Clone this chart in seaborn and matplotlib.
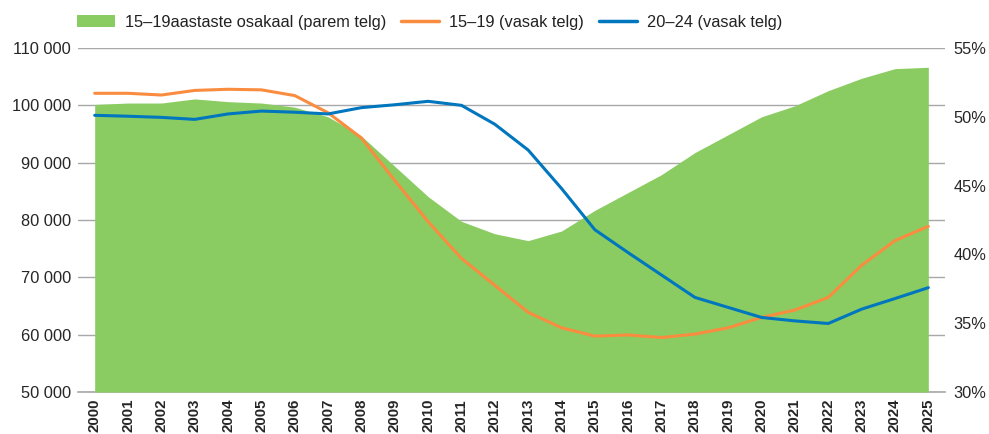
import numpy as np
import pandas as pd
import matplotlib
matplotlib.use('Agg')
import matplotlib.pyplot as plt
import seaborn as sns
from matplotlib.ticker import FuncFormatter, FixedLocator
from matplotlib.patches import Patch
from matplotlib.lines import Line2D

# Data
years = list(range(2000, 2026))
share_15_19 = [50.9, 51.0, 51.0, 51.3, 51.1, 51.0, 50.7, 50.0, 48.6, 46.4, 44.2, 42.4, 41.5,
               41.0, 41.7, 43.2, 44.5, 45.8, 47.4, 48.7, 50.0, 50.8, 51.9, 52.8, 53.5, 53.6]
pop_15_19 = [102100, 102100, 101800, 102600, 102800, 102700, 101700, 98700, 94300, 86900,
             79700, 73300, 68600, 63900, 61200, 59750, 59950, 59500, 60100, 61200,
             63000, 64300, 66500, 72100, 76400, 78900]
pop_20_24 = [98260, 98100, 97900, 97550, 98500, 99000, 98800, 98500, 99600, 100100,
             100700, 100000, 96700, 92200, 85500, 78300, 74300, 70400, 66500, 64750,
             63000, 62400, 61950, 64450, 66300, 68200]

label_share = '15–19aastaste osakaal (parem telg)'
label_15_19 = '15–19 (vasak telg)'
label_20_24 = '20–24 (vasak telg)'

green = '#8acc62'
orange = '#fa8c40'
blue = '#0076be'
grid_gray = '#a8a8a8'

df = pd.DataFrame({'year': years, 'share': share_15_19,
                   'p1519': pop_15_19, 'p2024': pop_20_24})

sns.set_theme(style='white')
plt.rcParams['font.family'] = ['Liberation Sans', 'DejaVu Sans']
plt.rcParams['text.color'] = '#222222'

fig = plt.figure(figsize=(9.89, 4.34), dpi=100)
rect = [78 / 989, 42 / 434, (945 - 78) / 989, (392 - 48) / 434]

# bottom layer: left axis with grid
ax = fig.add_axes(rect)
ax.set_xlim(1999.5, 2025.5)
ax.set_ylim(50000, 110000)
ax.yaxis.set_major_locator(FixedLocator(range(50000, 110001, 10000)))
ax.yaxis.set_major_formatter(FuncFormatter(lambda v, p: f'{int(v):,}'.replace(',', ' ')))
ax.grid(axis='y', color=grid_gray, linewidth=1)
ax.grid(axis='x', visible=False)
for s in ['top', 'left', 'right']:
    ax.spines[s].set_visible(False)
ax.spines['bottom'].set_color(grid_gray)
ax.spines['bottom'].set_linewidth(1.2)
ax.set_xticks(years)
ax.set_xticklabels([str(y) for y in years], rotation=90, fontweight='bold', fontsize=10.8)
ax.set_xticks([y - 0.5 for y in years] + [2025.5], minor=True)
ax.tick_params(axis='x', which='major', length=0, pad=5)
ax.tick_params(axis='x', which='minor', direction='in', length=7, color=grid_gray, width=1)
ax.tick_params(axis='y', length=0, labelsize=11.8, pad=5)

# middle layer: share area on right axis
ax2 = ax.twinx()
ax2.fill_between(df['year'], 30, df['share'], color=green, linewidth=0)
ax2.set_ylim(30, 55)
ax2.set_yticks(range(30, 56, 5))
ax2.yaxis.set_major_formatter(FuncFormatter(lambda v, p: f'{int(v)}%'))
ax2.tick_params(axis='y', length=0, labelsize=11.8, pad=6)
for s in ax2.spines.values():
    s.set_visible(False)
ax2.grid(False)

# top layer: lines on left scale
ax3 = ax.twinx()
sns.lineplot(data=df, x='year', y='p1519', ax=ax3, color=orange, linewidth=2.2)
sns.lineplot(data=df, x='year', y='p2024', ax=ax3, color=blue, linewidth=2.2)
ax3.set_ylim(ax.get_ylim())
ax3.set_xlim(ax.get_xlim())
ax3.set_yticks([])
ax3.set_ylabel('')
ax3.set_xlabel('')
for s in ax3.spines.values():
    s.set_visible(False)
ax.set_xlabel('')

handles = [Patch(facecolor=green, edgecolor='none'),
           Line2D([0], [0], color=orange, linewidth=2.5),
           Line2D([0], [0], color=blue, linewidth=2.5)]
fig.legend(handles, [label_share, label_15_19, label_20_24], ncol=3, frameon=False,
           loc='center left', bbox_to_anchor=(0.078, 1 - 22 / 434), fontsize=11.8,
           handlelength=2.3, handleheight=0.75, handletextpad=0.6, columnspacing=0.95,
           borderpad=0, borderaxespad=0)

fig.savefig('out.png', dpi=100)
